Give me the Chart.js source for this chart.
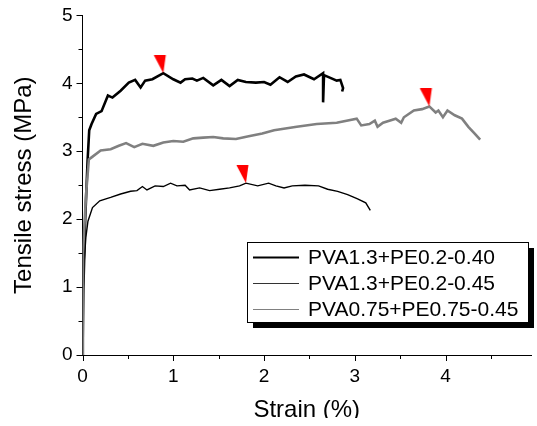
<!DOCTYPE html>
<html>
<head>
<meta charset="utf-8">
<script src="https://cdn.jsdelivr.net/npm/chart.js@4/dist/chart.umd.min.js"></script>
<style>
  body { margin: 0; background: #fff; }
</style>
</head>
<body>
<canvas id="grafico" width="537" height="426"></canvas>
<script>
// legend labels
const labels = ["PVA1.3+PE0.2-0.40", "PVA1.3+PE0.2-0.45", "PVA0.75+PE0.75-0.45"]

// PVA1.3+PE0.2-0.40 (thick black, top)
const strainA = [0, 0.01, 0.03, 0.056, 0.074, 0.10, 0.15, 0.21, 0.28, 0.33, 0.42, 0.51, 0.58, 0.64, 0.69, 0.77, 0.89, 1.0, 1.08, 1.13, 1.21, 1.26, 1.33, 1.44, 1.53, 1.62, 1.71, 1.80, 1.91, 2.0, 2.07, 2.17, 2.26, 2.35, 2.44, 2.55, 2.65, 2.65, 2.66, 2.73, 2.80, 2.84, 2.87, 2.86]
const stressA = [0, 1.0, 2.0, 2.86, 3.31, 3.40, 3.55, 3.59, 3.82, 3.79, 3.89, 4.01, 4.05, 3.94, 4.04, 4.06, 4.15, 4.06, 4.01, 4.06, 4.07, 4.04, 4.08, 3.97, 4.05, 3.96, 4.05, 4.02, 4.01, 4.02, 3.98, 4.09, 4.02, 4.10, 4.13, 4.06, 4.15, 3.72, 4.12, 4.08, 4.04, 4.05, 3.93, 3.88]

// PVA1.3+PE0.2-0.45 (thin black, bottom)
const strainB = [0, 0.003, 0.01, 0.02, 0.037, 0.06, 0.11, 0.19, 0.31, 0.42, 0.53, 0.60, 0.66, 0.71, 0.80, 0.89, 0.97, 1.04, 1.13, 1.18, 1.29, 1.40, 1.51, 1.62, 1.73, 1.80, 1.93, 2.05, 2.13, 2.22, 2.31, 2.45, 2.60, 2.70, 2.81, 2.92, 3.03, 3.12, 3.17]
const stressB = [0, 0.6, 1.0, 1.4, 1.73, 1.97, 2.17, 2.27, 2.32, 2.37, 2.41, 2.42, 2.48, 2.43, 2.49, 2.48, 2.53, 2.49, 2.50, 2.43, 2.46, 2.42, 2.44, 2.46, 2.49, 2.53, 2.49, 2.53, 2.49, 2.46, 2.49, 2.50, 2.49, 2.44, 2.41, 2.36, 2.30, 2.24, 2.13]

// PVA0.75+PE0.75-0.45 (gray, middle)
const strainC = [0, 0.005, 0.04, 0.07, 0.10, 0.20, 0.31, 0.40, 0.48, 0.57, 0.66, 0.78, 0.89, 1.0, 1.11, 1.22, 1.33, 1.44, 1.55, 1.69, 1.83, 1.98, 2.11, 2.36, 2.58, 2.80, 3.02, 3.07, 3.16, 3.22, 3.25, 3.31, 3.38, 3.45, 3.51, 3.54, 3.65, 3.74, 3.82, 3.89, 3.92, 3.97, 4.02, 4.10, 4.18, 4.25, 4.32, 4.38]
const stressC = [0, 1.5, 2.38, 2.88, 2.91, 3.01, 3.03, 3.08, 3.12, 3.06, 3.11, 3.08, 3.13, 3.15, 3.14, 3.19, 3.20, 3.21, 3.19, 3.18, 3.22, 3.26, 3.31, 3.36, 3.40, 3.42, 3.48, 3.38, 3.40, 3.45, 3.36, 3.42, 3.45, 3.48, 3.42, 3.50, 3.60, 3.62, 3.66, 3.57, 3.60, 3.50, 3.60, 3.53, 3.48, 3.36, 3.26, 3.17]

// red arrow markers (peaks)
const peakStrain = [0.89, 1.80, 3.82]
const peakStress = [4.15, 2.53, 3.66]

// axis ticks
const xTicks = [0, 1, 2, 3, 4]
const yTicks = [0, 1, 2, 3, 4, 5]

const pts = (xs, ys) => xs.map((v, i) => ({x: v, y: ys[i]}))
const fam = '"Liberation Sans", Arial, sans-serif'

// downward red triangle, tip at the centre of the canvas
var tri = document.createElement("canvas")
tri.width = 24
tri.height = 36
var tc = tri.getContext("2d")
tc.fillStyle = "#ff0000"
tc.beginPath()
tc.moveTo(2.5, 0)
tc.lineTo(14.5, 0)
tc.lineTo(12, 18)
tc.closePath()
tc.fill()

const tickMarks = {
    id: "tickMarks",
    afterDraw: (chart) => {
        const ctx = chart.ctx
        const xs = chart.scales.x, ys = chart.scales.y
        ctx.save()
        ctx.strokeStyle = "#000"
        ctx.lineWidth = 1
        ctx.beginPath()
        xs.ticks.forEach(t => {
            const len = Number.isInteger(t.value) ? 6 : 4
            const px = Math.round(xs.getPixelForValue(t.value)) + 0.5
            ctx.moveTo(px, ys.bottom)
            ctx.lineTo(px, ys.bottom + len)
        })
        ys.ticks.forEach(t => {
            const len = Number.isInteger(t.value) ? 6 : 4
            const py = Math.round(ys.getPixelForValue(t.value)) + 0.5
            ctx.moveTo(xs.left, py)
            ctx.lineTo(xs.left - len, py)
        })
        ctx.stroke()
        ctx.restore()
    }
}

const boxLegend = {
    id: "boxLegend",
    afterDraw: (chart) => {
        const ctx = chart.ctx
        const x0 = 247, y0 = 242, w = 281, h = 80
        ctx.save()
        ctx.fillStyle = "#000"
        ctx.fillRect(x0 + 6, y0 + 6, w, h)
        ctx.fillStyle = "#fff"
        ctx.fillRect(x0, y0, w, h)
        ctx.strokeStyle = "#000"
        ctx.lineWidth = 1
        ctx.strokeRect(x0 + 0.5, y0 + 0.5, w, h)
        ctx.font = "21px " + fam
        ctx.textBaseline = "middle"
        var row = 0
        chart.data.datasets.forEach(d => {
            if (!d.inLegend) return
            const y = y0 + 15.5 + row * 26
            row++
            ctx.strokeStyle = d.legendColor
            ctx.lineWidth = d.legendWidth
            ctx.beginPath()
            ctx.moveTo(253, y)
            ctx.lineTo(299, y)
            ctx.stroke()
            ctx.fillStyle = "#000"
            ctx.fillText(d.label, 308, y + 1)
        })
        // picture is cut off at the bottom
        ctx.fillStyle = "#fff"
        ctx.fillRect(0, 418, 537, 8)
        ctx.restore()
    }
}

var ctx = document.querySelector("#grafico").getContext("2d")
var chart = new Chart(ctx, {
    type: "scatter",
    data: {
        datasets: [
            {
                label: "peaks",
                data: pts(peakStrain, peakStress),
                pointStyle: tri,
                pointRadius: 5,
                showLine: false,
                order: 0
            },
            {
                label: labels[0],
                data: pts(strainA, stressA),
                showLine: true,
                borderColor: "#000",
                borderWidth: 2.6,
                pointRadius: 0,
                inLegend: true,
                legendColor: "#000",
                legendWidth: 2,
                order: 2
            },
            {
                label: labels[1],
                data: pts(strainB, stressB),
                showLine: true,
                borderColor: "#000",
                borderWidth: 1.4,
                pointRadius: 0,
                inLegend: true,
                legendColor: "#333",
                legendWidth: 1,
                order: 3
            },
            {
                label: labels[2],
                data: pts(strainC, stressC),
                showLine: true,
                borderColor: "#808080",
                borderWidth: 2.6,
                pointRadius: 0,
                inLegend: true,
                legendColor: "#808080",
                legendWidth: 1,
                order: 1
            }
        ]
    },
    options: {
        responsive: false,
        animation: false,
        layout: { padding: { top: 15, right: 0, left: 0, bottom: 0 } },
        plugins: { legend: { display: false }, tooltip: { enabled: false } },
        scales: {
            x: {
                type: "linear",
                min: 0,
                max: 4.94,
                afterFit: (s) => { s.height = 71 },
                border: { display: true, color: "#000", width: 1 },
                grid: { drawOnChartArea: false, tickLength: 6, tickColor: "rgba(0,0,0,0)" },
                ticks: {
                    stepSize: 0.5,
                    includeBounds: false,
                    autoSkip: false,
                    maxRotation: 0,
                    padding: 4,
                    color: "#000",
                    font: { family: fam, size: 19 },
                    callback: v => xTicks.includes(v) ? String(v) : ""
                },
                title: {
                    display: true,
                    text: "Strain (%)",
                    color: "#000",
                    font: { family: fam, size: 24 },
                    padding: { top: 0, bottom: 1 }
                }
            },
            y: {
                type: "linear",
                min: 0,
                max: 5,
                afterFit: (s) => { s.width = 82.5 },
                border: { display: true, color: "#000", width: 1 },
                grid: { drawOnChartArea: false, tickLength: 6, tickColor: "rgba(0,0,0,0)" },
                ticks: {
                    stepSize: 0.5,
                    autoSkip: false,
                    padding: 4,
                    color: "#000",
                    font: { family: fam, size: 19 },
                    callback: v => yTicks.includes(v) ? String(v) : ""
                },
                title: {
                    display: true,
                    text: "Tensile stress (MPa)",
                    color: "#000",
                    font: { family: fam, size: 24 },
                    padding: { top: 10, bottom: 0 }
                }
            }
        }
    },
    plugins: [tickMarks, boxLegend]
})
</script>
</body>
</html>
